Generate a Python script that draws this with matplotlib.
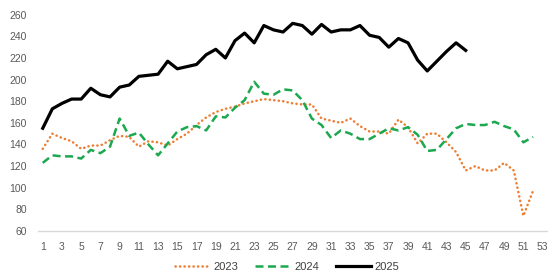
import matplotlib
matplotlib.use("Agg")
import matplotlib.pyplot as plt

weeks_2023 = list(range(1, 53))
vals_2023 = [136, 150, 146, 143, 136, 139, 139, 144, 148, 147, 138, 143, 142, 139, 145, 150,
             158, 165, 170, 173, 175, 178, 180, 182, 181, 180, 178, 177, 177, 164, 162, 160,
             164, 157, 152, 152, 150, 163, 156, 141, 150, 150, 142, 133, 116, 120, 116, 116,
             123, 116, 74, 97]
weeks_2024 = list(range(1, 53))
vals_2024 = [123, 130, 129, 129, 127, 135, 132, 138, 164, 148, 151, 140, 130, 141, 152, 156,
             157, 153, 166, 165, 174, 181, 198, 187, 186, 191, 190, 181, 164, 158, 146, 153,
             150, 145, 145, 150, 155, 153, 156, 149, 134, 135, 145, 155, 159, 158, 158, 161,
             157, 154, 142, 147]
weeks_2025 = list(range(1, 46))
vals_2025 = [155, 173, 178, 182, 182, 192, 186, 184, 193, 195, 203, 204, 205, 217, 210, 212,
             214, 223, 228, 220, 236, 243, 234, 250, 246, 244, 252, 250, 242, 251, 244, 246,
             246, 250, 241, 239, 230, 238, 234, 218, 208, 217, 226, 234, 227]
labels = ["2023", "2024", "2025"]
xtick_labels = list(range(1, 54, 2))
ytick_labels = list(range(60, 261, 20))

plt.rcParams['font.family'] = ['Liberation Sans', 'DejaVu Sans']
fig = plt.figure(figsize=(5.52, 2.76), dpi=100)
ax = fig.add_axes([0.0687, 0.163, 0.923, 0.7837])

l1, = ax.plot(weeks_2023, vals_2023, color='#ED7D31', lw=1.8, linestyle=(0, (0.1, 1.7)),
              dash_capstyle='round', solid_joinstyle='round', label=labels[0])
l2, = ax.plot(weeks_2024, vals_2024, color='#1BA84E', lw=1.8, linestyle=(0, (3.2, 1.8)),
              label=labels[1])
l3, = ax.plot(weeks_2025, vals_2025, color='black', lw=2.3, solid_joinstyle='round',
              label=labels[2])

ax.set_xlim(0.5, 53.5)
ax.set_ylim(60, 260)
ax.set_xticks(xtick_labels)
ax.set_xticklabels([str(v) for v in xtick_labels])
ax.set_yticks(ytick_labels)
ax.set_yticklabels([str(v) for v in ytick_labels])
ax.tick_params(axis='both', length=0, labelsize=7.5, colors='#595959')
ax.tick_params(axis='x', pad=8)
ax.tick_params(axis='y', pad=8)
for s in ['top', 'right', 'left']:
    ax.spines[s].set_visible(False)
ax.spines['bottom'].set_color('#D9D9D9')
ax.spines['bottom'].set_linewidth(1.0)

fig.legend(handles=[l1, l2, l3], loc='lower center', bbox_to_anchor=(0.52, -0.02), ncol=3,
           frameon=False, fontsize=8, handlelength=3.2, columnspacing=1.5, handletextpad=0.3,
           labelcolor='#404040')

fig.savefig('out.png', dpi=100)
